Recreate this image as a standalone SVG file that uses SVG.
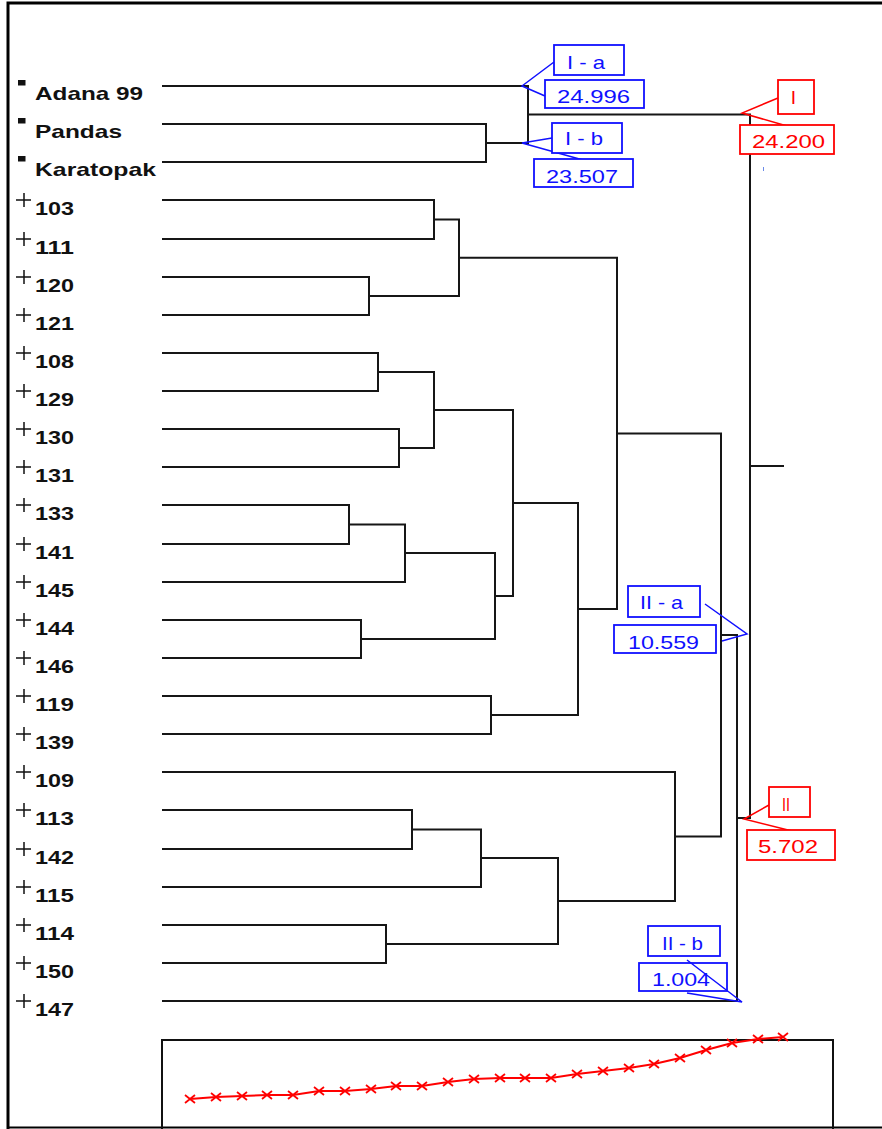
<svg xmlns="http://www.w3.org/2000/svg" width="882" height="1129" viewBox="0 0 882 1129">
<style>
.frame{fill:none;stroke:#000;stroke-width:3}
.den{fill:none;stroke:#161616;stroke-width:2;stroke-linecap:square}
.lbl{font-family:"Liberation Sans",Arial,sans-serif;font-weight:bold;font-size:19px;fill:#111}
.mk{fill:none;stroke:#111;stroke-width:1.5}
.bb{fill:#fff;stroke:#1010ff;stroke-width:1.8}
.bt{font-family:"Liberation Sans",Arial,sans-serif;font-size:19px;fill:#1010ff}
.bl{fill:none;stroke:#1010ff;stroke-width:1.5}
.rb{fill:#fff;stroke:#ff0000;stroke-width:1.8}
.rt{font-family:"Liberation Sans",Arial,sans-serif;font-size:19px;fill:#ff0000}
.rl{fill:none;stroke:#ff0000;stroke-width:1.5}
.chart{fill:none;stroke:#111;stroke-width:2}
.curve{fill:none;stroke:#ff0000;stroke-width:2}
.xm{fill:none;stroke:#ff0000;stroke-width:1.8}
</style>
<defs>
<path id="plus" d="M-7,0H8M1,-7V7" class="mk"/>
<rect id="sq" x="0" y="0" width="7.5" height="5.5" fill="#111"/>
<path id="xmark" d="M-5,-4L5,4M-5,4L5,-4" class="xm"/>
</defs>
<rect width="882" height="1129" fill="#fff"/>
<g id="frame">
<path class="frame" d="M8,1129V3H882"/>
<path d="M8,1127.5H882" stroke="#000" stroke-width="2" fill="none"/>
</g>

<g id="leaves">
<g id="leaf-adana99"><use href="#sq" x="18" y="80"/><text class="lbl" x="35" y="100" textLength="108" lengthAdjust="spacingAndGlyphs">Adana 99</text></g>
<g id="leaf-pandas"><use href="#sq" x="18" y="118"/><text class="lbl" x="35" y="138" textLength="87" lengthAdjust="spacingAndGlyphs">Pandas</text></g>
<g id="leaf-karatopak"><use href="#sq" x="18" y="156"/><text class="lbl" x="35" y="176" textLength="121" lengthAdjust="spacingAndGlyphs">Karatopak</text></g>
<g id="leaf-103"><use href="#plus" x="23" y="200"/><text class="lbl" x="35" y="215" textLength="39" lengthAdjust="spacingAndGlyphs">103</text></g>
<g id="leaf-111"><use href="#plus" x="23" y="239"/><text class="lbl" x="35" y="254" textLength="39" lengthAdjust="spacingAndGlyphs">111</text></g>
<g id="leaf-120"><use href="#plus" x="23" y="277"/><text class="lbl" x="35" y="292" textLength="39" lengthAdjust="spacingAndGlyphs">120</text></g>
<g id="leaf-121"><use href="#plus" x="23" y="315"/><text class="lbl" x="35" y="330" textLength="39" lengthAdjust="spacingAndGlyphs">121</text></g>
<g id="leaf-108"><use href="#plus" x="23" y="353"/><text class="lbl" x="35" y="368" textLength="39" lengthAdjust="spacingAndGlyphs">108</text></g>
<g id="leaf-129"><use href="#plus" x="23" y="391"/><text class="lbl" x="35" y="406" textLength="39" lengthAdjust="spacingAndGlyphs">129</text></g>
<g id="leaf-130"><use href="#plus" x="23" y="429"/><text class="lbl" x="35" y="444" textLength="39" lengthAdjust="spacingAndGlyphs">130</text></g>
<g id="leaf-131"><use href="#plus" x="23" y="467"/><text class="lbl" x="35" y="482" textLength="39" lengthAdjust="spacingAndGlyphs">131</text></g>
<g id="leaf-133"><use href="#plus" x="23" y="505"/><text class="lbl" x="35" y="520" textLength="39" lengthAdjust="spacingAndGlyphs">133</text></g>
<g id="leaf-141"><use href="#plus" x="23" y="544"/><text class="lbl" x="35" y="559" textLength="39" lengthAdjust="spacingAndGlyphs">141</text></g>
<g id="leaf-145"><use href="#plus" x="23" y="582"/><text class="lbl" x="35" y="597" textLength="39" lengthAdjust="spacingAndGlyphs">145</text></g>
<g id="leaf-144"><use href="#plus" x="23" y="620"/><text class="lbl" x="35" y="635" textLength="39" lengthAdjust="spacingAndGlyphs">144</text></g>
<g id="leaf-146"><use href="#plus" x="23" y="658"/><text class="lbl" x="35" y="673" textLength="39" lengthAdjust="spacingAndGlyphs">146</text></g>
<g id="leaf-119"><use href="#plus" x="23" y="696"/><text class="lbl" x="35" y="711" textLength="39" lengthAdjust="spacingAndGlyphs">119</text></g>
<g id="leaf-139"><use href="#plus" x="23" y="734"/><text class="lbl" x="35" y="749" textLength="39" lengthAdjust="spacingAndGlyphs">139</text></g>
<g id="leaf-109"><use href="#plus" x="23" y="772"/><text class="lbl" x="35" y="787" textLength="39" lengthAdjust="spacingAndGlyphs">109</text></g>
<g id="leaf-113"><use href="#plus" x="23" y="810"/><text class="lbl" x="35" y="825" textLength="39" lengthAdjust="spacingAndGlyphs">113</text></g>
<g id="leaf-142"><use href="#plus" x="23" y="849"/><text class="lbl" x="35" y="864" textLength="39" lengthAdjust="spacingAndGlyphs">142</text></g>
<g id="leaf-115"><use href="#plus" x="23" y="887"/><text class="lbl" x="35" y="902" textLength="39" lengthAdjust="spacingAndGlyphs">115</text></g>
<g id="leaf-114"><use href="#plus" x="23" y="925"/><text class="lbl" x="35" y="940" textLength="39" lengthAdjust="spacingAndGlyphs">114</text></g>
<g id="leaf-150"><use href="#plus" x="23" y="963"/><text class="lbl" x="35" y="978" textLength="39" lengthAdjust="spacingAndGlyphs">150</text></g>
<g id="leaf-147"><use href="#plus" x="23" y="1001"/><text class="lbl" x="35" y="1016" textLength="39" lengthAdjust="spacingAndGlyphs">147</text></g>
</g>

<g id="connectors">
<path class="den" d="M163,86H528 M163,124H486 M163,162H486 M163,200H434 M163,239H434 M163,277H369 M163,315H369 M163,353H378 M163,391H378 M163,429H399 M163,467H399 M163,505H349 M163,544H349 M163,582H405 M163,620H361 M163,658H361 M163,696H491 M163,734H491 M163,772H675 M163,810H412 M163,849H412 M163,887H481 M163,925H386 M163,963H386 M163,1001H737"/>
<path class="den" d="M486,124V162 M486,143H528 M528,86V143 M528,114.5H750
M434,200V239 M434,219.5H459 M369,277V315 M369,296H459 M459,219.5V296 M459,257.75H617
M378,353V391 M378,372H434 M399,429V467 M399,448H434 M434,372V448 M434,410H513
M349,505V544 M349,524.5H405 M405,524.5V582 M405,553H495 M361,620V658 M361,639H495 M495,553V639 M495,596H513
M513,410V596 M513,503H578 M491,696V734 M491,715H578 M578,503V715 M578,609H617
M617,257.75V609 M617,433.4H721
M412,810V849 M412,829.5H481 M481,829.5V887 M481,858H558 M386,925V963 M386,944H558 M558,858V944 M558,901H675
M675,772V901 M675,836.5H721 M721,433.4V836.5 M721,635H737 M737,635V1001 M737,818H750 M750,114.5V818 M750,466H783"/>
</g>

<g id="callout-Ia">
<path class="bl" d="M554,62L522,86L545,96"/>
<rect class="bb" x="554" y="45" width="70" height="30"/>
<text class="bt" x="567" y="69" textLength="38" lengthAdjust="spacingAndGlyphs">I - a</text>
<rect class="bb" x="545" y="80" width="99" height="28"/>
<text class="bt" x="557" y="103" textLength="73" lengthAdjust="spacingAndGlyphs">24.996</text>
</g>
<g id="callout-Ib">
<path class="bl" d="M552,138L522,143L583,160"/>
<rect class="bb" x="552" y="123" width="70" height="30"/>
<text class="bt" x="565" y="145" textLength="38" lengthAdjust="spacingAndGlyphs">I - b</text>
<rect class="bb" x="534" y="159" width="99" height="28"/>
<text class="bt" x="546" y="183" textLength="72" lengthAdjust="spacingAndGlyphs">23.507</text>
</g>
<g id="callout-I">
<path class="rl" d="M778,98L742,113L787,126"/>
<rect class="rb" x="778" y="80" width="36" height="34"/>
<text class="rt" x="793.5" y="104" text-anchor="middle">I</text>
<rect class="rb" x="740" y="125" width="94" height="29"/>
<text class="rt" x="752" y="148" textLength="73" lengthAdjust="spacingAndGlyphs">24.200</text>
<path d="M763.5,167V171" stroke="#6a8ae8" stroke-width="1" fill="none"/>
</g>
<g id="callout-IIa">
<path class="bl" d="M705,604L747,634L722,641"/>
<rect class="bb" x="628" y="586" width="72" height="31"/>
<text class="bt" x="640" y="609" textLength="43" lengthAdjust="spacingAndGlyphs">II - a</text>
<rect class="bb" x="614" y="625" width="102" height="28"/>
<text class="bt" x="628" y="649" textLength="71" lengthAdjust="spacingAndGlyphs">10.559</text>
</g>
<g id="callout-II">
<path class="rl" d="M769,805L744,819L792,831"/>
<rect class="rb" x="769" y="787" width="41" height="30"/>
<text class="rt" x="782" y="811" textLength="8" lengthAdjust="spacingAndGlyphs">II</text>
<rect class="rb" x="747" y="830" width="88" height="30"/>
<text class="rt" x="758" y="853" textLength="60" lengthAdjust="spacingAndGlyphs">5.702</text>
</g>
<g id="callout-IIb">
<rect class="bb" x="648" y="926" width="72" height="30"/>
<text class="bt" x="662" y="950" textLength="41" lengthAdjust="spacingAndGlyphs">II - b</text>
<rect class="bb" x="639" y="963" width="88" height="28"/>
<text class="bt" x="652" y="986" textLength="58" lengthAdjust="spacingAndGlyphs">1.004</text>
<path class="bl" d="M687,960L742,1002L687,993"/>
</g>

<g id="chart">
<path class="chart" d="M162,1129V1040H833V1129"/>
<polyline class="curve" points="190,1099 216,1097 242,1096 267,1095 293,1095 319,1091 345,1091 371,1089 396,1086 422,1086 448,1082 474,1079 500,1078 525,1078 551,1078 577,1074 603,1071 629,1068 654,1064 680,1058 706,1050 732,1043 758,1039 783,1037"/>
<use href="#xmark" x="190" y="1099"/><use href="#xmark" x="216" y="1097"/><use href="#xmark" x="242" y="1096"/><use href="#xmark" x="267" y="1095"/>
<use href="#xmark" x="293" y="1095"/><use href="#xmark" x="319" y="1091"/><use href="#xmark" x="345" y="1091"/><use href="#xmark" x="371" y="1089"/>
<use href="#xmark" x="396" y="1086"/><use href="#xmark" x="422" y="1086"/><use href="#xmark" x="448" y="1082"/><use href="#xmark" x="474" y="1079"/>
<use href="#xmark" x="500" y="1078"/><use href="#xmark" x="525" y="1078"/><use href="#xmark" x="551" y="1078"/><use href="#xmark" x="577" y="1074"/>
<use href="#xmark" x="603" y="1071"/><use href="#xmark" x="629" y="1068"/><use href="#xmark" x="654" y="1064"/><use href="#xmark" x="680" y="1058"/>
<use href="#xmark" x="706" y="1050"/><use href="#xmark" x="732" y="1043"/><use href="#xmark" x="758" y="1039"/><use href="#xmark" x="783" y="1037"/>
</g>
</svg>
